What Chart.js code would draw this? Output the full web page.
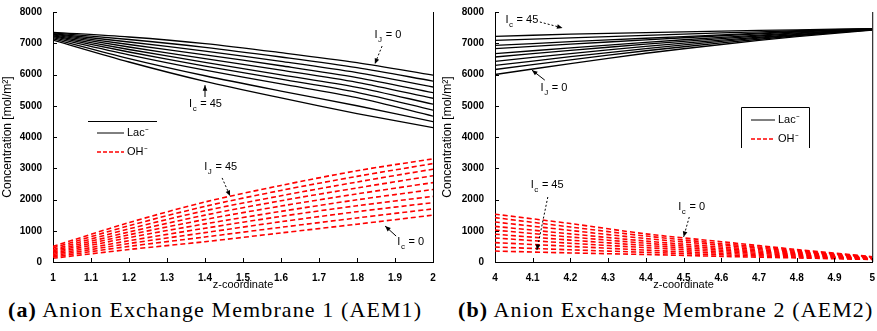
<!DOCTYPE html>
<html>
<head>
<meta charset="utf-8">
<script src="https://cdn.jsdelivr.net/npm/chart.js@4.4.1/dist/chart.umd.min.js"></script>
<style>
  body { margin: 0; background: #fff; }
  #wrap { position: relative; width: 877px; height: 331px; }
  .cv { position: absolute; top: 0; }
  .cap { position: absolute; top: 297px; font-family: "Liberation Serif", "DejaVu Serif", serif; font-size: 22px; letter-spacing: 1.1px; color: #000; white-space: nowrap; }
</style>
</head>
<body>
<div id="wrap">
  <div class="cv" style="left:0;width:438px;height:292px"><canvas id="chartA"></canvas></div>
  <div class="cv" style="left:440px;width:437px;height:292px"><canvas id="chartB"></canvas></div>
  <div class="cap" style="left:8px"><b>(a)</b> Anion Exchange Membrane 1 (AEM1)</div>
  <div class="cap" style="left:458px"><b>(b)</b> Anion Exchange Membrane 2 (AEM2)</div>
</div>
<script>
// current values for each curve (one line per current)
const currents = [0, 5, 10, 15, 20, 25, 30, 35, 40, 45];

// AEM1, z from 1 to 2
const zA = [1, 1.2, 1.4, 1.6, 1.8, 2];
const lacA = [
  [7350, 7200, 6990, 6700, 6380, 5980],
  [7330, 7120, 6870, 6560, 6220, 5790],
  [7310, 7040, 6750, 6420, 6060, 5600],
  [7290, 6960, 6630, 6280, 5900, 5420],
  [7270, 6880, 6510, 6140, 5750, 5240],
  [7240, 6800, 6390, 5990, 5590, 5050],
  [7210, 6720, 6270, 5850, 5430, 4860],
  [7180, 6630, 6140, 5700, 5260, 4670],
  [7140, 6510, 5960, 5470, 5000, 4490],
  [7100, 6400, 5780, 5250, 4750, 4300]
];
const ohA = [
  [120, 400, 650, 930, 1210, 1500],
  [160, 500, 800, 1110, 1410, 1700],
  [200, 590, 940, 1290, 1610, 1900],
  [240, 680, 1080, 1460, 1800, 2100],
  [280, 780, 1220, 1620, 1990, 2320],
  [320, 870, 1360, 1790, 2180, 2540],
  [360, 960, 1500, 1960, 2370, 2760],
  [400, 1060, 1640, 2120, 2560, 2970],
  [450, 1160, 1780, 2290, 2740, 3150],
  [500, 1260, 1920, 2450, 2920, 3300]
];

// AEM2, z from 4 to 5
const zB = [4, 4.2, 4.4, 4.6, 4.8, 5];
const lacB = [
  [6000, 6350, 6680, 6960, 7210, 7420],
  [6160, 6470, 6760, 7010, 7240, 7430],
  [6290, 6570, 6830, 7060, 7260, 7435],
  [6420, 6670, 6900, 7100, 7280, 7440],
  [6560, 6770, 6970, 7150, 7310, 7445],
  [6670, 6850, 7030, 7190, 7330, 7450],
  [6830, 6970, 7110, 7240, 7360, 7455],
  [6930, 7050, 7160, 7270, 7380, 7460],
  [7090, 7170, 7250, 7330, 7400, 7465],
  [7220, 7290, 7340, 7390, 7430, 7470]
];
const ohB = [
  [1530, 1230, 900, 650, 400, 170],
  [1420, 1120, 830, 590, 370, 160],
  [1280, 1010, 750, 540, 340, 150],
  [1140, 900, 670, 480, 310, 140],
  [1020, 800, 600, 430, 280, 130],
  [890, 700, 530, 380, 250, 120],
  [770, 600, 460, 330, 220, 110],
  [620, 500, 380, 280, 190, 100],
  [480, 390, 310, 230, 160, 90],
  [350, 290, 240, 180, 130, 80]
];

// annotation labels: [main, sub, rest, textZ, textY, fromZ, fromY, toZ, toY, dashed]
const notesA = [
  ['I', 'J', ' = 0', 1.88, 7260, 1.866, 6910, 1.847, 6340, true],
  ['I', 'c', ' = 45', 1.40, 5050, 1.40, 5280, 1.40, 5660, false],
  ['I', 'J', ' = 45', 1.44, 3040, 1.445, 2690, 1.466, 2110, true],
  ['I', 'c', ' = 0', 1.94, 640, 1.903, 830, 1.874, 1150, false]
];
const notesB = [
  ['I', 'c', ' = 45', 4.07, 7740, 4.119, 7680, 4.179, 7490, true],
  ['I', 'J', ' = 0', 4.155, 5570, 4.132, 5820, 4.098, 6140, false],
  ['I', 'c', ' = 45', 4.137, 2460, 4.140, 2080, 4.111, 380, true],
  ['I', 'c', ' = 0', 4.52, 1760, 4.515, 1440, 4.50, 800, true]
];

function buildDatasets(z, lac, oh) {
  const ds = [];
  lac.forEach((vals, k) => ds.push({
    label: 'Lac I=' + currents[k],
    data: vals.map((v, i) => ({ x: z[i], y: v })),
    borderColor: '#000', borderWidth: 1.3, pointRadius: 0, tension: 0.3, fill: false
  }));
  oh.forEach((vals, k) => ds.push({
    label: 'OH I=' + currents[k],
    data: vals.map((v, i) => ({ x: z[i], y: v })),
    borderColor: '#ff0000', borderWidth: 1.6, borderDash: [5, 3], pointRadius: 0, tension: 0.3, fill: false
  }));
  return ds;
}

function arrow(ctx, x1, y1, x2, y2, dashed) {
  ctx.save();
  ctx.strokeStyle = '#000';
  ctx.lineWidth = 1;
  if (dashed) ctx.setLineDash([2, 2]);
  ctx.beginPath();
  ctx.moveTo(x1, y1);
  ctx.lineTo(x2, y2);
  ctx.stroke();
  ctx.setLineDash([]);
  const a = Math.atan2(y2 - y1, x2 - x1);
  ctx.beginPath();
  ctx.moveTo(x2, y2);
  ctx.lineTo(x2 - 6 * Math.cos(a - 0.4), y2 - 6 * Math.sin(a - 0.4));
  ctx.lineTo(x2 - 6 * Math.cos(a + 0.4), y2 - 6 * Math.sin(a + 0.4));
  ctx.closePath();
  ctx.fillStyle = '#000';
  ctx.fill();
  ctx.restore();
}

const extras = {
  id: 'extras',
  afterDraw(chart, args, opts) {
    const ctx = chart.ctx;
    const xs = chart.scales.x, ys = chart.scales.y;
    const a = chart.chartArea;
    ctx.save();
    // right box edge
    ctx.strokeStyle = '#000';
    ctx.lineWidth = 1;
    ctx.beginPath();
    ctx.moveTo(a.right + 0.5, a.top);
    ctx.lineTo(a.right + 0.5, a.bottom);
    ctx.stroke();
    // inward ticks
    xs.ticks.forEach(t => {
      const px = Math.round(xs.getPixelForValue(t.value)) + 0.5;
      ctx.beginPath(); ctx.moveTo(px, a.bottom); ctx.lineTo(px, a.bottom - 4); ctx.stroke();
    });
    ys.ticks.forEach(t => {
      const py = Math.round(ys.getPixelForValue(t.value)) + 0.5;
      ctx.beginPath(); ctx.moveTo(a.left, py); ctx.lineTo(a.left + 4, py); ctx.stroke();
    });
    // annotations
    opts.notes.forEach(n => {
      const tx = xs.getPixelForValue(n[3]), ty = ys.getPixelForValue(n[4]);
      ctx.fillStyle = '#000';
      ctx.textBaseline = 'middle';
      ctx.font = '11px "Liberation Sans", Arial, sans-serif';
      const w1 = ctx.measureText(n[0]).width;
      ctx.font = '8px "Liberation Sans", Arial, sans-serif';
      const w2 = ctx.measureText(n[1]).width;
      ctx.font = '11px "Liberation Sans", Arial, sans-serif';
      const w3 = ctx.measureText(n[2]).width;
      let x0 = tx - (w1 + w2 + w3) / 2;
      ctx.fillText(n[0], x0, ty);
      ctx.font = '8px "Liberation Sans", Arial, sans-serif';
      ctx.fillText(n[1], x0 + w1 + 0.5, ty + 5);
      ctx.font = '11px "Liberation Sans", Arial, sans-serif';
      ctx.fillText(n[2], x0 + w1 + w2 + 1, ty);
      arrow(ctx, xs.getPixelForValue(n[5]), ys.getPixelForValue(n[6]),
        xs.getPixelForValue(n[7]), ys.getPixelForValue(n[8]), n[9]);
    });
    // legend
    const L = opts.legend;
    ctx.strokeStyle = '#000';
    ctx.lineWidth = 1;
    ctx.beginPath();
    if (L.sides) {
      ctx.moveTo(L.x0 + 0.5, L.bottom);
      ctx.lineTo(L.x0 + 0.5, L.top + 0.5);
      ctx.lineTo(L.x1 + 0.5, L.top + 0.5);
      ctx.lineTo(L.x1 + 0.5, L.bottom);
    } else {
      ctx.moveTo(L.x0, L.top + 0.5);
      ctx.lineTo(L.x1, L.top + 0.5);
    }
    ctx.stroke();
    ctx.font = '11px "Liberation Sans", Arial, sans-serif';
    ctx.textBaseline = 'middle';
    ctx.fillStyle = '#000';
    ctx.beginPath(); ctx.moveTo(L.sx0, L.y1); ctx.lineTo(L.sx1, L.y1); ctx.stroke();
    ctx.fillText('Lac\u207B', L.sx1 + 3, L.y1);
    ctx.strokeStyle = '#ff0000';
    ctx.lineWidth = 1.3;
    ctx.setLineDash([4, 2]);
    ctx.beginPath(); ctx.moveTo(L.sx0, L.y2); ctx.lineTo(L.sx1, L.y2); ctx.stroke();
    ctx.setLineDash([]);
    ctx.fillText('OH\u207B', L.sx1 + 3, L.y2);
    ctx.restore();
  }
};

function makeChart(id, z, lac, oh, xmin, xmax, yWidth, padRight, notes, legend) {
  new Chart(document.getElementById(id), {
    type: 'line',
    data: { datasets: buildDatasets(z, lac, oh) },
    options: {
      responsive: true,
      maintainAspectRatio: false,
      animation: false,
      layout: { padding: { top: 12, right: padRight, left: 0, bottom: 0 } },
      plugins: { legend: { display: false }, tooltip: { enabled: false }, extras: { notes: notes, legend: legend } },
      scales: {
        x: {
          type: 'linear', min: xmin, max: xmax,
          grid: { display: false },
          border: { display: true, color: '#000', width: 1 },
          ticks: {
            stepSize: 0.1, color: '#000', padding: 2, maxRotation: 0,
            font: { family: '"Liberation Sans", Arial, sans-serif', size: 10, weight: 'bold' },
            callback: v => String(+v.toFixed(1))
          },
          title: { display: true, text: 'z-coordinate', color: '#000', padding: 0,
            font: { family: '"Liberation Sans", Arial, sans-serif', size: 11 } },
          afterFit: s => { s.height = 30; }
        },
        y: {
          min: 0, max: 8000,
          grid: { display: false },
          border: { display: true, color: '#000', width: 1 },
          ticks: {
            stepSize: 1000, color: '#000', padding: 3,
            font: { family: '"Liberation Sans", Arial, sans-serif', size: 10, weight: 'bold' },
            callback: v => String(v)
          },
          title: { display: true, text: 'Concentration [mol/m\u00B2]', color: '#000', padding: 0,
            font: { family: '"Liberation Sans", Arial, sans-serif', size: 12 } },
          afterFit: s => { s.width = yWidth; }
        }
      }
    },
    plugins: [extras]
  });
}

makeChart('chartA', zA, lacA, ohA, 1, 2, 53, 5, notesA,
  { sides: false, x0: 88, x1: 157, top: 121, bottom: 121, sx0: 97, sx1: 124, y1: 133, y2: 152 });
makeChart('chartB', zB, lacB, ohB, 4, 5, 55, 3, notesB,
  { sides: true, x0: 301, x1: 369, top: 107, bottom: 148, sx0: 311, sx1: 335, y1: 120, y2: 139 });
</script>
</body>
</html>
